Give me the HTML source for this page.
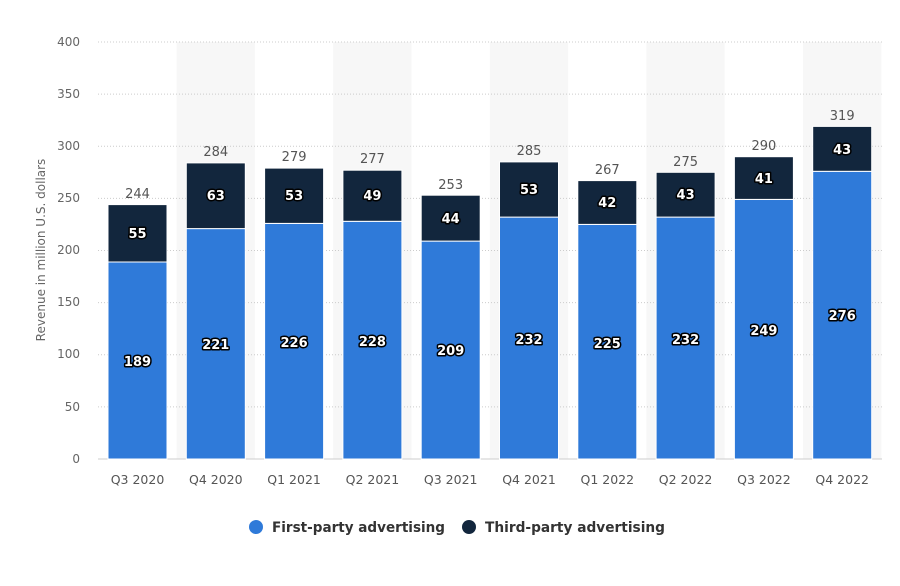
<!DOCTYPE html>
<html><head><meta charset="utf-8"><style>
body{margin:0;background:#fff}
svg text{font-family:"DejaVu Sans","Liberation Sans",sans-serif}
.yl{font-size:12px;fill:#666;text-anchor:end}
.xl{font-size:12.5px;fill:#555;text-anchor:middle}
.tot{font-size:13px;fill:#555;text-anchor:middle}
.in{font-size:13px;font-weight:bold;fill:#fff;text-anchor:middle;stroke:#000;stroke-width:3px;paint-order:stroke;stroke-linejoin:round}
.b1{fill:#2f7ad9;stroke:#fff;stroke-width:1}
.b2{fill:#12263d;stroke:#fff;stroke-width:1}
</style></head><body>
<svg width="900" height="581" xmlns="http://www.w3.org/2000/svg">
<g fill="#f7f7f7">
<rect x="176.6" y="42" width="78.3" height="417"/>
<rect x="333.2" y="42" width="78.3" height="417"/>
<rect x="489.8" y="42" width="78.3" height="417"/>
<rect x="646.4" y="42" width="78.3" height="417"/>
<rect x="803" y="42" width="78.3" height="417"/>
</g>
<g stroke="#ccc" stroke-dasharray="1,2">
<line x1="98" x2="882" y1="42" y2="42"/><line x1="98" x2="882" y1="94.1" y2="94.1"/>
<line x1="98" x2="882" y1="146.25" y2="146.25"/><line x1="98" x2="882" y1="198.4" y2="198.4"/>
<line x1="98" x2="882" y1="250.5" y2="250.5"/><line x1="98" x2="882" y1="302.6" y2="302.6"/>
<line x1="98" x2="882" y1="354.75" y2="354.75"/><line x1="98" x2="882" y1="406.9" y2="406.9"/>
</g>
<line x1="98" x2="882" y1="459" y2="459" stroke="#ccc"/>
<g class="yl">
<text x="80" y="46">400</text><text x="80" y="98">350</text><text x="80" y="150">300</text>
<text x="80" y="202">250</text><text x="80" y="254">200</text><text x="80" y="306">150</text>
<text x="80" y="358">100</text><text x="80" y="411">50</text><text x="80" y="463">0</text>
</g>
<text transform="translate(45,250) rotate(-90)" font-size="12" fill="#666" text-anchor="middle">Revenue in million U.S. dollars</text>
<g>
<rect class="b1" x="108" y="262" width="59" height="197"/><rect class="b2" x="108" y="204.6" width="59" height="57.4"/>
<rect class="b1" x="186.3" y="228.6" width="59" height="230.4"/><rect class="b2" x="186.3" y="162.9" width="59" height="65.7"/>
<rect class="b1" x="264.6" y="223.4" width="59" height="235.6"/><rect class="b2" x="264.6" y="168.1" width="59" height="55.3"/>
<rect class="b1" x="342.9" y="221.3" width="59" height="237.7"/><rect class="b2" x="342.9" y="170.2" width="59" height="51.1"/>
<rect class="b1" x="421.2" y="241.1" width="59" height="217.9"/><rect class="b2" x="421.2" y="195.2" width="59" height="45.9"/>
<rect class="b1" x="499.5" y="217.1" width="59" height="241.9"/><rect class="b2" x="499.5" y="161.9" width="59" height="55.2"/>
<rect class="b1" x="577.8" y="224.4" width="59" height="234.6"/><rect class="b2" x="577.8" y="180.6" width="59" height="43.8"/>
<rect class="b1" x="656.1" y="217.1" width="59" height="241.9"/><rect class="b2" x="656.1" y="172.3" width="59" height="44.8"/>
<rect class="b1" x="734.4" y="199.4" width="59" height="259.6"/><rect class="b2" x="734.4" y="156.7" width="59" height="42.7"/>
<rect class="b1" x="812.7" y="171.3" width="59" height="287.7"/><rect class="b2" x="812.7" y="126.4" width="59" height="44.9"/>
</g>
<g class="in">
<text x="137.5" y="366">189</text><text x="137.5" y="238">55</text>
<text x="215.8" y="349">221</text><text x="215.8" y="200">63</text>
<text x="294.1" y="347">226</text><text x="294.1" y="200">53</text>
<text x="372.4" y="346">228</text><text x="372.4" y="200">49</text>
<text x="450.7" y="355">209</text><text x="450.7" y="223">44</text>
<text x="529" y="344">232</text><text x="529" y="194">53</text>
<text x="607.3" y="348">225</text><text x="607.3" y="207">42</text>
<text x="685.6" y="344">232</text><text x="685.6" y="199">43</text>
<text x="763.9" y="335">249</text><text x="763.9" y="183">41</text>
<text x="842.2" y="320">276</text><text x="842.2" y="154">43</text>
</g>
<g class="tot">
<text x="137.5" y="198">244</text><text x="215.8" y="156">284</text><text x="294.1" y="161">279</text>
<text x="372.4" y="163">277</text><text x="450.7" y="189">253</text><text x="529" y="155">285</text>
<text x="607.3" y="174">267</text><text x="685.6" y="166">275</text><text x="763.9" y="150">290</text>
<text x="842.2" y="120">319</text>
</g>
<g class="xl">
<text x="137.5" y="484">Q3 2020</text><text x="215.8" y="484">Q4 2020</text><text x="294.1" y="484">Q1 2021</text>
<text x="372.4" y="484">Q2 2021</text><text x="450.7" y="484">Q3 2021</text><text x="529" y="484">Q4 2021</text>
<text x="607.3" y="484">Q1 2022</text><text x="685.6" y="484">Q2 2022</text><text x="763.9" y="484">Q3 2022</text>
<text x="842.2" y="484">Q4 2022</text>
</g>
<circle cx="256" cy="527" r="7" fill="#2f7ad9"/>
<text x="272" y="532" font-size="14" font-weight="bold" fill="#333" textLength="173" lengthAdjust="spacingAndGlyphs">First-party advertising</text>
<circle cx="469" cy="527" r="7" fill="#12263d"/>
<text x="485" y="532" font-size="14" font-weight="bold" fill="#333" textLength="180" lengthAdjust="spacingAndGlyphs">Third-party advertising</text>
</svg>
</body></html>
